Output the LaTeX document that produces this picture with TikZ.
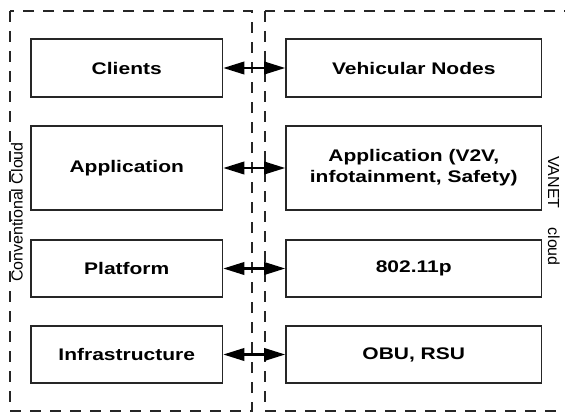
\documentclass[tikz,border=0pt]{standalone}
\usepackage{fontspec}
\setmainfont{Liberation Sans}
\newfontfamily\boxfont[FakeStretch=1.25]{Liberation Sans}
\usetikzlibrary{arrows.meta}
\begin{document}
\begin{tikzpicture}[x=1pt,y=-1pt,
  layerbox/.style={draw=black!85,line width=1.6pt,minimum height=#1,inner sep=0pt,
    font=\boxfont\bfseries\fontsize{16.8}{21}\selectfont,align=center},
  leftbox/.style={layerbox=#1,minimum width=191.5pt},
  rightbox/.style={layerbox=#1,minimum width=255.5pt},
  cloudframe/.style={draw=black!85,line width=1.3pt,dash pattern=on 11pt off 9pt},
  link/.style={line width=2.2pt,{Triangle[length=21pt,width=12.5pt]}-{Triangle[length=21pt,width=12.5pt]}},
  sidelabel/.style={font=\fontsize{16}{19}\selectfont,inner sep=0pt,anchor=base}]
\clip (0,0) rectangle (565,412);
\fill[white] (0,0) rectangle (565,412);
% cloud frames
\draw[cloudframe] (10,11) rectangle (252,411);
\draw[cloudframe] (265,11) rectangle (600,411);
% left column
\node[leftbox=58pt] (cl) at (126.75,68) {Clients};
\node[leftbox=84pt] (ap) at (126.75,168) {Application};
\node[leftbox=57pt] (pl) at (126.75,268.5) {Platform};
\node[leftbox=57pt] (in) at (126.75,354.5) {Infrastructure};
% right column
\node[rightbox=58pt] (vn) at (413.75,68) {Vehicular Nodes};
\node[rightbox=84pt] (va) at (413.75,168) {Application (V2V,\\infotainment, Safety)};
\node[rightbox=57pt] (p8) at (413.75,268.5) {802.11p};
\node[rightbox=57pt] (ob) at (413.75,354.5) {OBU, RSU};
% links
\draw[link] (cl.east) -- (vn.west);
\draw[link] (ap.east) -- (va.west);
\draw[link] (pl.east) -- (p8.west);
\draw[link] (in.east) -- (ob.west);
% side labels
\node[sidelabel,rotate=90] (lc) at (22.5,212) {Conventional Cloud};
\node[sidelabel,rotate=-90] (lv) at (548,211) {VANET\hspace{19pt}cloud};
\end{tikzpicture}
\end{document}
